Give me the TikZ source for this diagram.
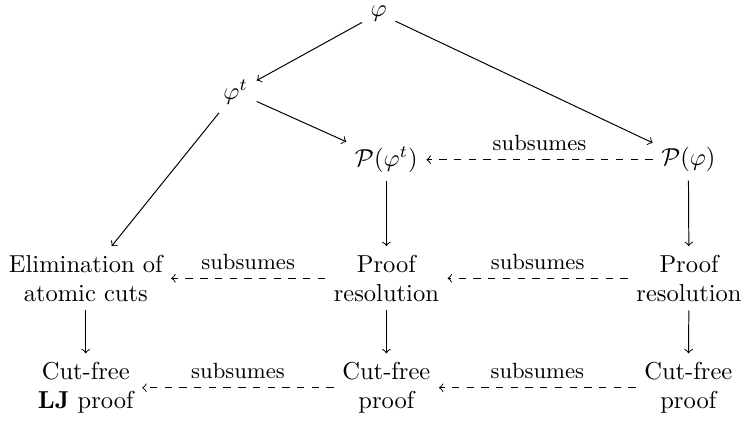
\documentclass[tikz,border=0pt]{standalone}
\usepackage{amsmath, amssymb}
\usepackage{tikz}

\begin{document}
\begin{tikzpicture}[>=to,x=1cm,y=1cm,
    stage/.style={align=center},
    subs/.style={->,dashed},
    lbl/.style={font=\small,above}]
    \useasboundingbox (0,0) rectangle (10.74,6.08);

    \node (phi) at (5.43,5.89) {\(\varphi\)};
    \node (phit) at (3.38,4.76) {\(\varphi^t\)};
    \node (pphit) at (5.54,3.79) {\(\mathcal{P}(\varphi^t)\)};
    \node (pphi) at (9.87,3.79) {\(\mathcal{P}(\varphi)\)};

    \node[stage] (elim) at (1.23,2.09) {Elimination of\\atomic cuts};
    \node[stage] (resmid) at (5.54,2.09) {Proof\\resolution};
    \node[stage] (resright) at (9.88,2.09) {Proof\\resolution};

    \node[stage] (lj) at (1.23,0.52) {Cut-free\\\textbf{LJ} proof};
    \node[stage] (cfmid) at (5.54,0.52) {Cut-free\\proof};
    \node[stage] (cfright) at (9.87,0.52) {Cut-free\\proof};

    \draw[->] (phi) -- (phit);
    \draw[->] (phi) -- (pphi);
    \draw[->] (phit) -- (pphit);
    \draw[->] (phit) -- (elim);
    \draw[->] (pphit) -- (resmid);
    \draw[->] (pphi) -- (resright);
    \draw[->] (elim) -- (lj);
    \draw[->] (resmid) -- (cfmid);
    \draw[->] (resright) -- (cfright);

    \draw[subs] (pphi) -- node[lbl] {subsumes} (pphit);
    \draw[subs] (resmid) -- node[lbl] {subsumes} (elim);
    \draw[subs] (resright) -- node[lbl] {subsumes} (resmid);
    \draw[subs] (cfmid) -- node[lbl] {subsumes} (lj);
    \draw[subs] (cfright) -- node[lbl] {subsumes} (cfmid);
\end{tikzpicture}
\end{document}
